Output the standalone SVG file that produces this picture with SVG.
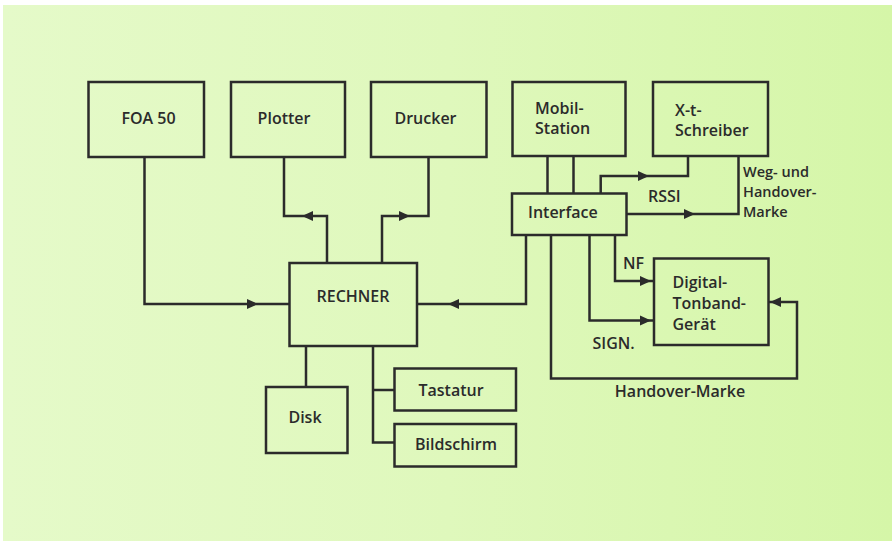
<svg xmlns="http://www.w3.org/2000/svg" xmlns:xlink="http://www.w3.org/1999/xlink" width="892" height="541" viewBox="0 0 892 541">
<style>
.box{fill:none;stroke:#2b2b2b;stroke-width:2.5}
.ln{fill:none;stroke:#2b2b2b;stroke-width:2.5;stroke-linejoin:miter}
.t{font-family:"Open Sans","Liberation Sans",sans-serif;font-weight:600;font-size:16px;fill:#2b2b2b}
.s{font-size:14.5px}
.m{text-anchor:middle}
</style>
<defs>
<linearGradient id="bg" x1="0" y1="0" x2="1" y2="0">
<stop offset="0" stop-color="#e5fac9"/>
<stop offset="0.5" stop-color="#dff8bc"/>
<stop offset="1" stop-color="#d5f6a8"/>
</linearGradient>
<polygon id="ah" points="0,0 -11,-5 -11,5" fill="#2b2b2b"/>
</defs>
<rect x="0" y="0" width="892" height="541" fill="#ffffff"/>
<rect x="3" y="5" width="889" height="536" fill="url(#bg)"/>

<g id="connectors">
<path class="ln" d="M144.5,157 V304 H289"/>
<path class="ln" d="M284,157 V216 H327 V263"/>
<path class="ln" d="M428.5,157 V216 H382 V263"/>
<path class="ln" d="M526,235 V304 H417"/>
<path class="ln" d="M306,346 V387"/>
<path class="ln" d="M373,346 V442.5 H394"/>
<path class="ln" d="M373,390 H394"/>
<path class="ln" d="M547.5,156 V193"/>
<path class="ln" d="M573.5,156 V193"/>
<path class="ln" d="M600.7,193 V176 H688 V156"/>
<path class="ln" d="M627,214 H738.5 V156"/>
<path class="ln" d="M615,235 V281 H654"/>
<path class="ln" d="M589.5,235 V320.5 H654"/>
<path class="ln" d="M551,235 V378.5 H797 V302 H768"/>
<use xlink:href="#ah" transform="translate(258,304)"/>
<use xlink:href="#ah" transform="translate(448,304) rotate(180)"/>
<use xlink:href="#ah" transform="translate(302,216) rotate(180)"/>
<use xlink:href="#ah" transform="translate(410,216)"/>
<use xlink:href="#ah" transform="translate(649,176)"/>
<use xlink:href="#ah" transform="translate(695,214)"/>
<use xlink:href="#ah" transform="translate(651,281)"/>
<use xlink:href="#ah" transform="translate(651,320.5)"/>
<use xlink:href="#ah" transform="translate(770,302) rotate(180)"/>
<text class="t" x="648" y="202">RSSI</text>
<text class="t s" x="743" y="177">Weg- und</text>
<text class="t s" x="743" y="196.8">Handover-</text>
<text class="t s" x="743" y="216.6">Marke</text>
<text class="t" x="623" y="269">NF</text>
<text class="t" x="592.5" y="349">SIGN.</text>
<text class="t m" x="680" y="396.5">Handover-Marke</text>
</g>

<g id="foa50"><rect class="box" x="88.5" y="82" width="115.5" height="75"/><text class="t m" x="148.5" y="124">FOA 50</text></g>
<g id="plotter"><rect class="box" x="231" y="82" width="114" height="75"/><text class="t m" x="284" y="124">Plotter</text></g>
<g id="drucker"><rect class="box" x="371" y="82" width="115.5" height="75"/><text class="t m" x="425.5" y="124">Drucker</text></g>
<g id="mobilstation"><rect class="box" x="512.5" y="82" width="113" height="74"/><text class="t" x="535" y="114">Mobil-</text><text class="t" x="535" y="134">Station</text></g>
<g id="xtschreiber"><rect class="box" x="653" y="82" width="115" height="74"/><text class="t" x="675" y="116">X-t-</text><text class="t" x="675" y="136">Schreiber</text></g>
<g id="interface"><rect class="box" x="512" y="193.5" width="114.5" height="41.5"/><text class="t" x="528" y="218">Interface</text></g>
<g id="rechner"><rect class="box" x="289.5" y="263" width="127.5" height="83"/><text class="t m" x="353" y="302">RECHNER</text></g>
<g id="digital"><rect class="box" x="654" y="258.5" width="114.5" height="86.5"/><text class="t" x="672.5" y="288">Digital-</text><text class="t" x="672.5" y="309">Tonband-</text><text class="t" x="672.5" y="329.5">Gerät</text></g>
<g id="disk"><rect class="box" x="266" y="387" width="81.5" height="66"/><text class="t m" x="305" y="422.5">Disk</text></g>
<g id="tastatur"><rect class="box" x="394.5" y="368.5" width="121.5" height="42"/><text class="t m" x="451" y="396">Tastatur</text></g>
<g id="bildschirm"><rect class="box" x="394.5" y="424" width="121.5" height="42.5"/><text class="t m" x="456" y="450">Bildschirm</text></g>
</svg>
